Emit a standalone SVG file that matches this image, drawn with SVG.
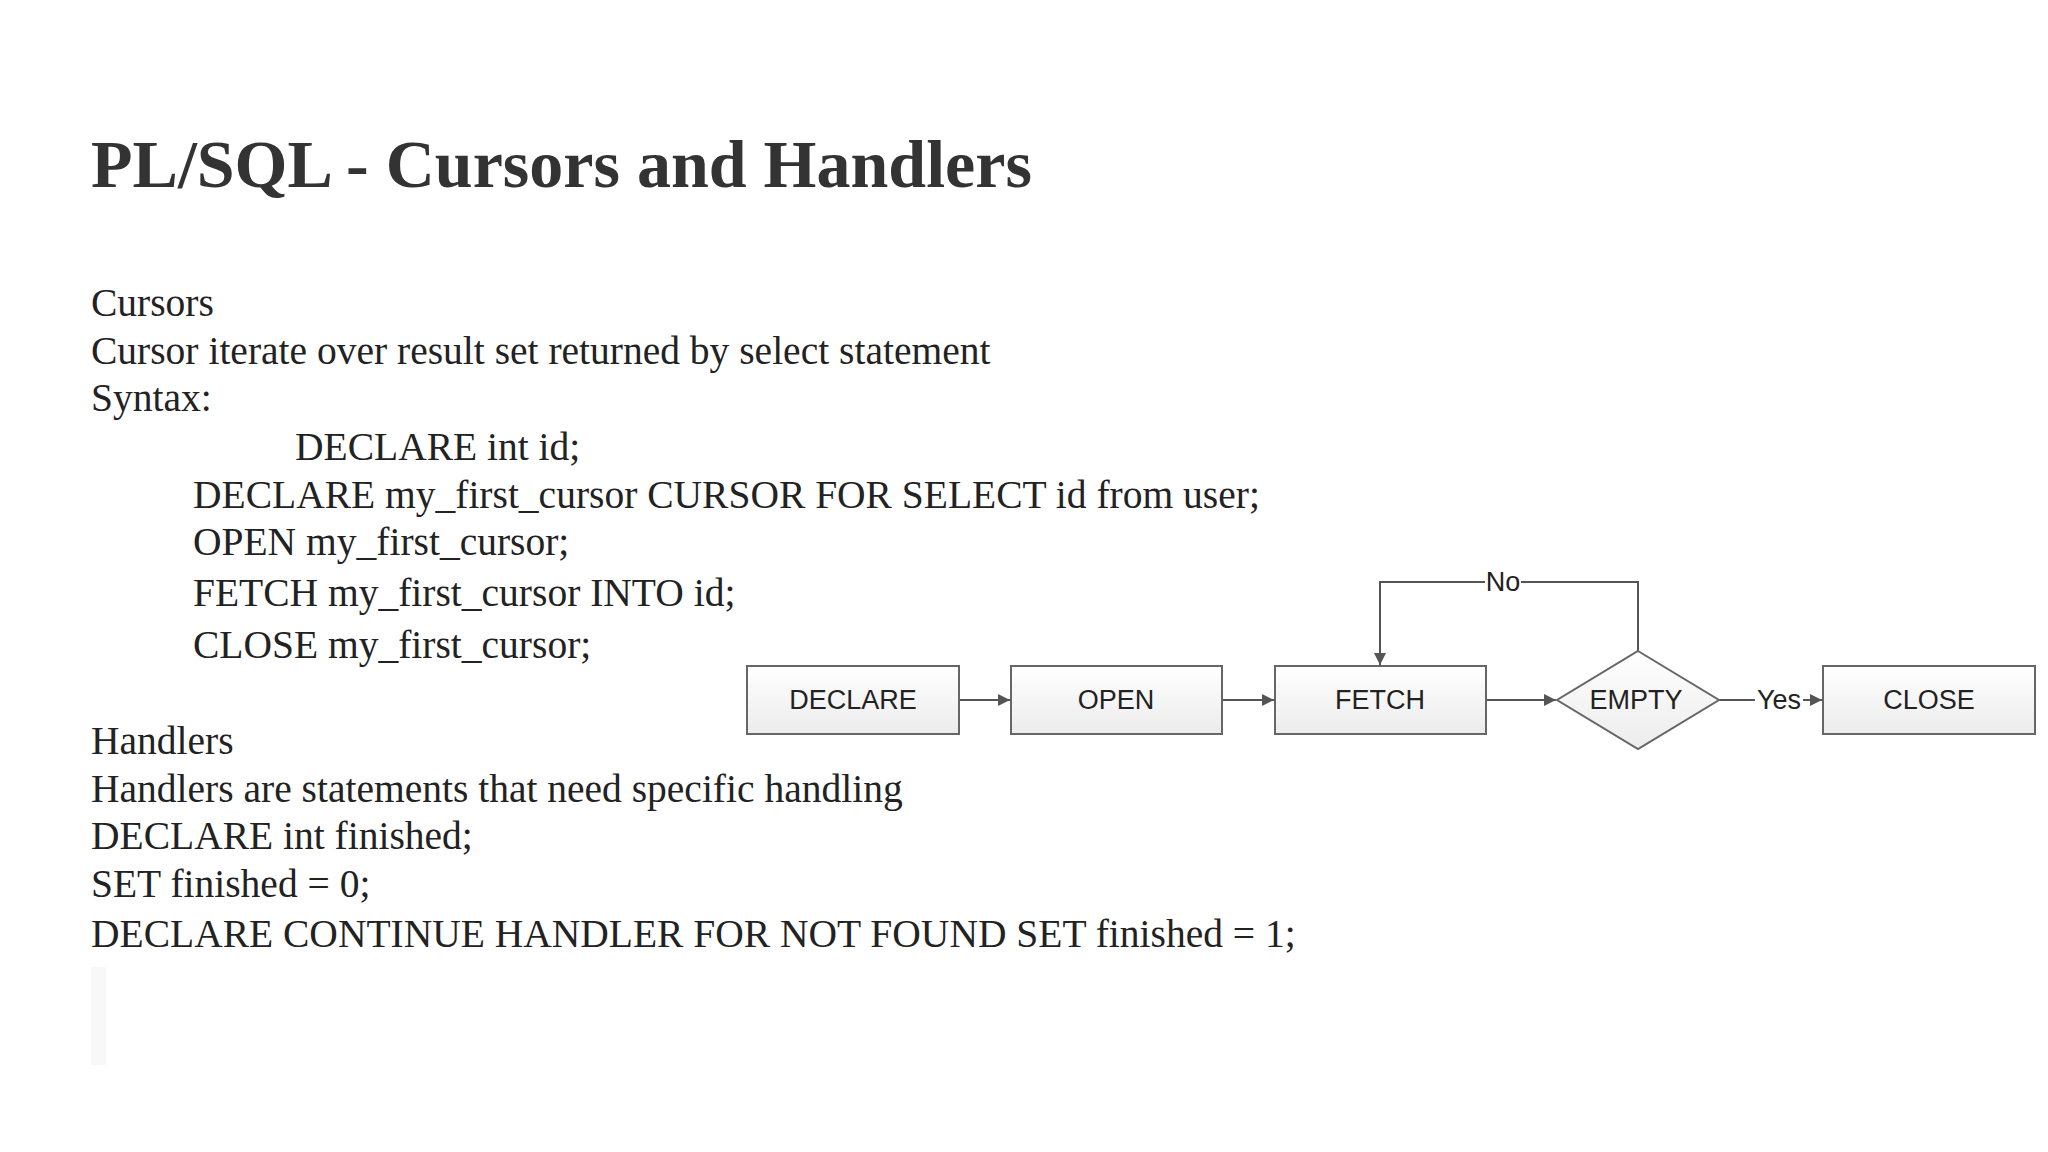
<svg xmlns="http://www.w3.org/2000/svg" width="2048" height="1152" viewBox="0 0 2048 1152">
<defs>
<linearGradient id="g" x1="0" y1="0" x2="0" y2="1"><stop offset="0" stop-color="#ffffff"/><stop offset="1" stop-color="#ececec"/></linearGradient>
<marker id="ah" viewBox="0 0 10 10" refX="10" refY="5" markerWidth="6" markerHeight="6" orient="auto"><path d="M0,0 L10,5 L0,10 z" fill="#555"/></marker>
<style>
.t{font-family:"Liberation Serif",serif;fill:#333}
.b{font-family:"Liberation Serif",serif;font-size:39.5px;fill:#222}
.n{fill:url(#g);stroke:#666;stroke-width:2}
.l{font-family:"Liberation Sans",Arial,sans-serif;font-size:27px;fill:#222;text-anchor:middle}
.c{fill:none;stroke:#555;stroke-width:2}
</style>
</defs>
<rect width="2048" height="1152" fill="#fff"/>
<text class="t" x="91" y="187" font-size="68" font-weight="bold">PL/SQL - Cursors and Handlers</text>
<g class="b">
<text x="91" y="316">Cursors</text>
<text x="91" y="364">Cursor iterate over result set returned by select statement</text>
<text x="91" y="411">Syntax:</text>
<text x="295" y="460">DECLARE int id;</text>
<text x="193" y="508">DECLARE my_first_cursor CURSOR FOR SELECT id from user;</text>
<text x="193" y="555">OPEN my_first_cursor;</text>
<text x="193" y="606">FETCH my_first_cursor INTO id;</text>
<text x="193" y="658">CLOSE my_first_cursor;</text>
<text x="91" y="754">Handlers</text>
<text x="91" y="802">Handlers are statements that need specific handling</text>
<text x="91" y="849">DECLARE int finished;</text>
<text x="91" y="897">SET finished = 0;</text>
<text x="91" y="947">DECLARE CONTINUE HANDLER FOR NOT FOUND SET finished = 1;</text>
</g>
<rect x="91" y="967" width="15" height="98" fill="#f8f8f8"/>
<g id="connectors">
<line class="c" x1="959" y1="700" x2="1010" y2="700" marker-end="url(#ah)"/>
<line class="c" x1="1222" y1="700" x2="1274" y2="700" marker-end="url(#ah)"/>
<line class="c" x1="1486" y1="700" x2="1556" y2="700" marker-end="url(#ah)"/>
<polyline class="c" points="1638,651 1638,582 1380,582 1380,665" marker-end="url(#ah)"/>
<rect x="1485" y="568" width="36" height="28" fill="#fff"/>
<text class="l" x="1503" y="591" font-size="25">No</text>
<line class="c" x1="1719" y1="700" x2="1822" y2="700" marker-end="url(#ah)"/>
<rect x="1755" y="686" width="48" height="28" fill="#fff"/>
<text class="l" x="1779" y="709" font-size="25">Yes</text>
</g>
<g id="declare"><rect class="n" x="747" y="666" width="212" height="68"/><text class="l" x="853" y="709">DECLARE</text></g>
<g id="open"><rect class="n" x="1011" y="666" width="211" height="68"/><text class="l" x="1116" y="709">OPEN</text></g>
<g id="fetch"><rect class="n" x="1275" y="666" width="211" height="68"/><text class="l" x="1380" y="709">FETCH</text></g>
<g id="empty"><polygon class="n" points="1638,651 1719,700 1638,749 1557,700"/><text class="l" x="1636" y="709">EMPTY</text></g>
<g id="close"><rect class="n" x="1823" y="666" width="212" height="68"/><text class="l" x="1929" y="709">CLOSE</text></g>
</svg>
